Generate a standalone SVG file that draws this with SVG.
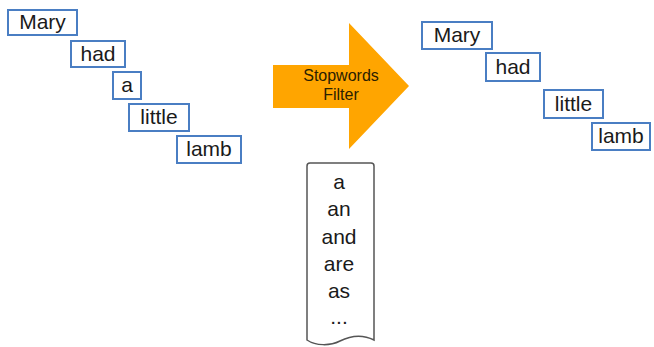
<svg xmlns="http://www.w3.org/2000/svg" width="654" height="347" viewBox="0 0 654 347">
  <style>
    .box { fill: #ffffff; stroke: #4a7ec3; stroke-width: 2; }
    .word { font-family: "Liberation Sans", Arial, sans-serif; font-size: 21px; fill: #1a1a1a; text-anchor: middle; }
    .stop { font-family: "Liberation Sans", Arial, sans-serif; font-size: 21px; fill: #1a1a1a; text-anchor: middle; }
    .label { font-family: "Liberation Sans", Arial, sans-serif; font-size: 16px; fill: #2a2000; text-anchor: middle; }
  </style>
  <rect width="654" height="347" fill="#ffffff"/>

  <!-- input sentence -->
  <g id="in-mary"><rect class="box" x="8" y="10" width="69" height="25"/><text class="word" x="42.5" y="29">Mary</text></g>
  <g id="in-had"><rect class="box" x="71" y="41" width="54" height="26"/><text class="word" x="98" y="61">had</text></g>
  <g id="in-a"><rect class="box" x="113" y="72" width="28" height="27"/><text class="word" x="127" y="92">a</text></g>
  <g id="in-little"><rect class="box" x="129" y="104" width="60" height="27"/><text class="word" x="159" y="124">little</text></g>
  <g id="in-lamb"><rect class="box" x="177" y="136" width="64" height="27"/><text class="word" x="209" y="156">lamb</text></g>

  <!-- filter arrow -->
  <g id="filter">
    <polygon points="273,65 349,65 349,23 409,86 349,149 349,108 273,108" fill="#ffa500"/>
    <text class="label" x="341" y="81">Stopwords</text>
    <text class="label" x="341" y="100">Filter</text>
  </g>

  <!-- stopword list -->
  <g id="stoplist">
    <path d="M310,163 H371 Q374,163 374,166 V340 C362,334 350,336 340,341 C330,346 316,346 307,340 V166 Q307,163 310,163 Z" fill="#ffffff" stroke="#555555" stroke-width="1.5"/>
    <text class="stop" x="339" y="189">a</text>
    <text class="stop" x="339" y="216">an</text>
    <text class="stop" x="339" y="244">and</text>
    <text class="stop" x="339" y="271">are</text>
    <text class="stop" x="339" y="298">as</text>
    <text class="stop" x="339" y="324">...</text>
  </g>

  <!-- filtered sentence -->
  <g id="out-mary"><rect class="box" x="422" y="22" width="70" height="27"/><text class="word" x="457" y="42">Mary</text></g>
  <g id="out-had"><rect class="box" x="486" y="53" width="54" height="28"/><text class="word" x="513" y="74">had</text></g>
  <g id="out-little"><rect class="box" x="544" y="90" width="59" height="28"/><text class="word" x="573.5" y="111">little</text></g>
  <g id="out-lamb"><rect class="box" x="592" y="123" width="58" height="27"/><text class="word" x="621" y="143">lamb</text></g>

  <g id="connectors"/>
</svg>
